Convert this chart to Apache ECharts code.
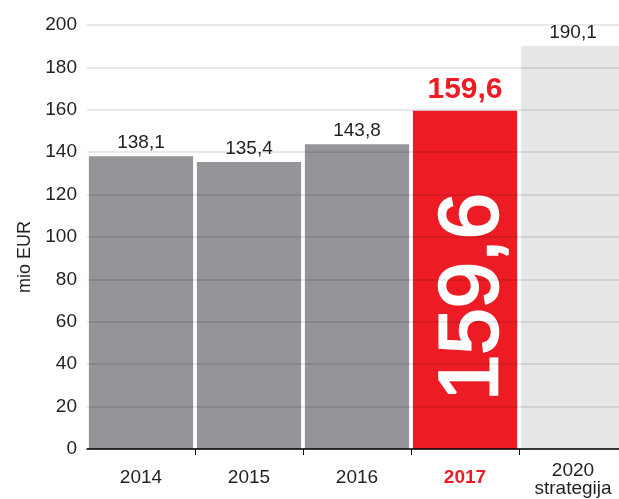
<!DOCTYPE html>
<html>
<head>
<meta charset="utf-8">
<script src="https://cdn.jsdelivr.net/npm/echarts@6/dist/echarts.min.js"></script>
<style>
  html, body { margin: 0; padding: 0; background: #fff; overflow: hidden; }
  #chart { width: 628px; height: 499px; }
</style>
</head>
<body>
<div id="chart"></div>
<script>
const categories = ['2014', '2015', '2016', '2017', '2020\nstrategija'];
const values = [138.1, 135.4, 143.8, 159.6, 190.1];
const highlightIndex = 3;
const yTicks = { min: 0, max: 200, interval: 20 };

const font = 'Liberation Sans';
const grey = '#939598';
const red = '#ED1C24';
const light = '#E6E7E8';
const textColor = '#231F20';

const fmt = (v) => String(v).replace('.', ',');

const barData = values.map((v, i) => {
    let color = grey;
    if (i === highlightIndex) color = red;
    if (i === values.length - 1) color = light;
    const item = { value: v, itemStyle: { color: color } };
    if (i === highlightIndex) {
        item.label = { color: red, fontWeight: 'bold', fontSize: 30, distance: 6 };
    }
    return item;
});

// overlay series only carries the big rotated label inside the red bar
const bigLabelData = values.map((v, i) => (i === highlightIndex ? v : '-'));

const xData = categories.map((c, i) => {
    if (i === highlightIndex) {
        return { value: c, textStyle: { color: red, fontWeight: 'bold', padding: [7, 0, 0, 0] } };
    }
    if (c.indexOf('\n') < 0) {
        return { value: c, textStyle: { padding: [7, 0, 0, 0] } };
    }
    return c;
});

const chart = echarts.init(document.getElementById('chart'), null, { renderer: 'canvas' });
chart.setOption({
    animation: false,
    backgroundColor: '#fff',
    textStyle: { fontFamily: font },
    // the last category runs past the right edge of the window, as in the original
    grid: { left: 87, right: 1, top: 25, bottom: 50, containLabel: false },
    xAxis: {
        type: 'category',
        data: xData,
        axisLine: { lineStyle: { color: '#000', width: 1.5 } },
        axisTick: { show: true, length: 6, lineStyle: { color: '#000' }, interval: (i) => i > 0 },
        axisLabel: { color: textColor, fontSize: 19, margin: 13, lineHeight: 18, fontFamily: font },
        z: 6,
    },
    yAxis: {
        type: 'value',
        min: yTicks.min,
        max: yTicks.max,
        interval: yTicks.interval,
        name: 'mio EUR',
        nameLocation: 'middle',
        nameGap: 52,
        nameTextStyle: { color: textColor, fontSize: 18, fontFamily: font, padding: [0, 40, 0, 0] },
        axisLine: { show: false },
        axisTick: { show: false },
        axisLabel: { color: textColor, fontSize: 19, margin: 10, fontFamily: font },
        splitLine: { lineStyle: { color: 'rgba(0,0,0,0.09)', width: 2 } },
        z: 5,
    },
    series: [
        {
            type: 'bar',
            data: barData,
            barCategoryGap: '3.5%',
            label: {
                show: true,
                position: 'top',
                distance: 4,
                color: textColor,
                fontSize: 19,
                fontFamily: font,
                formatter: (p) => fmt(p.value),
            },
        },
        {
            type: 'bar',
            data: bigLabelData,
            barGap: '-100%',
            barCategoryGap: '3.5%',
            itemStyle: { color: 'rgba(0,0,0,0)' },
            label: {
                show: true,
                position: 'inside',
                rotate: 90,
                offset: [-17, 9],
                color: '#fff',
                textBorderColor: '#fff',
                textBorderWidth: 2.5,
                fontSize: 83,
                fontFamily: font,
                formatter: (p) => fmt(p.value),
            },
            z: 3,
        },
    ],
});
</script>
</body>
</html>
